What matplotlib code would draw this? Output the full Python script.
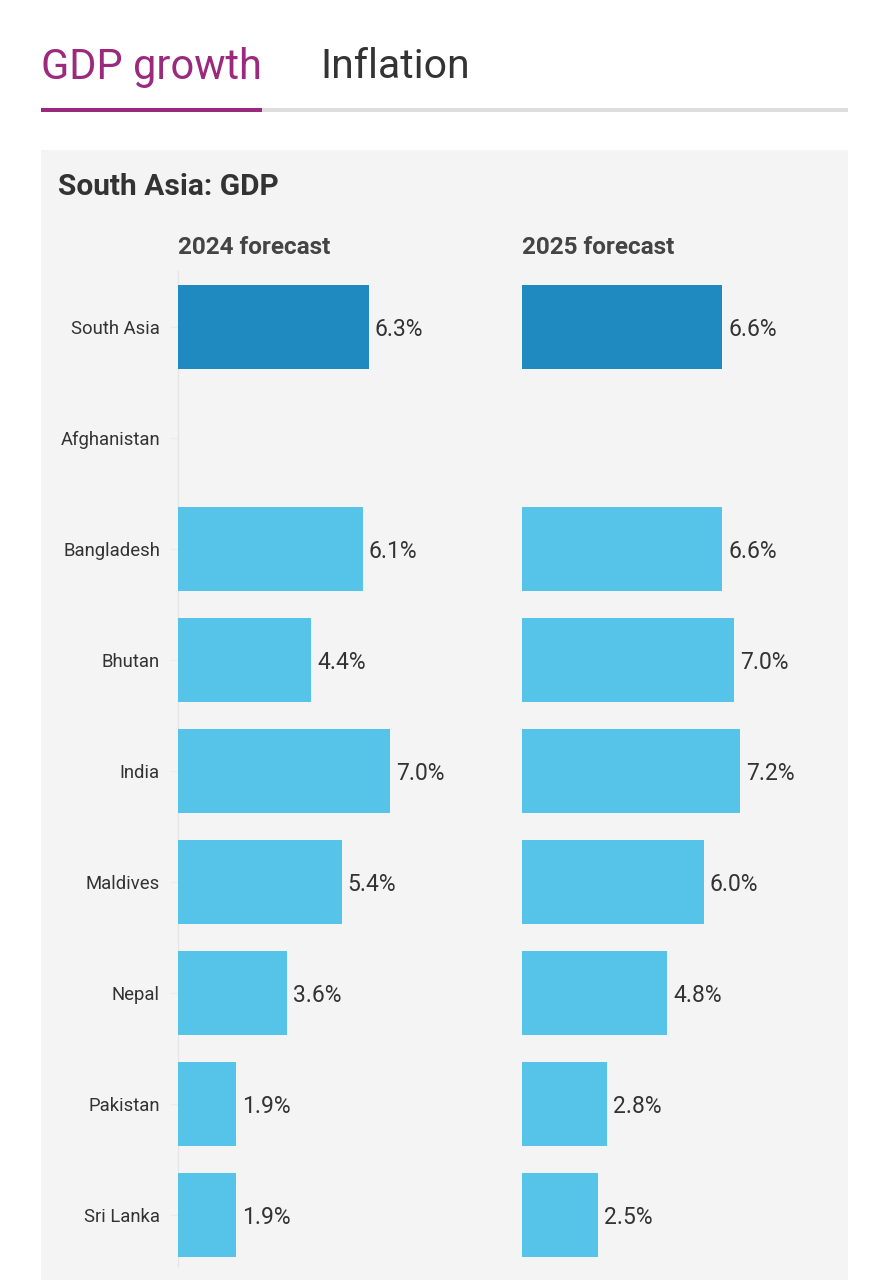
import matplotlib
matplotlib.use("Agg")
import matplotlib.pyplot as plt
from matplotlib.patches import Rectangle
import numpy as np

countries = ["South Asia", "Afghanistan", "Bangladesh", "Bhutan", "India",
             "Maldives", "Nepal", "Pakistan", "Sri Lanka"]
gdp_2024 = [6.3, np.nan, 6.1, 4.4, 7.0, 5.4, 3.6, 1.9, 1.9]
gdp_2025 = [6.6, np.nan, 6.6, 7.0, 7.2, 6.0, 4.8, 2.8, 2.5]
col_titles = ["2024 forecast", "2025 forecast"]

W, H = 889, 1280
DPI = 100
plt.rcParams['font.family'] = ['Roboto', 'DejaVu Sans']

fig = plt.figure(figsize=(W / DPI, H / DPI), dpi=DPI)
fig.patch.set_facecolor("white")

def fx(px):
    return px / W

def fy(py):
    return 1 - py / H

# gray panel
fig.add_artist(Rectangle((fx(41), fy(1280)), fx(848) - fx(41), fy(150) - fy(1280),
                         transform=fig.transFigure, facecolor="#f4f4f4", edgecolor="none", zorder=0))
# tab underline
fig.add_artist(Rectangle((fx(262), fy(112)), fx(848) - fx(262), 4 / H,
                         transform=fig.transFigure, facecolor="#dddddd", edgecolor="none", zorder=1))
fig.add_artist(Rectangle((fx(41), fy(112)), fx(262) - fx(41), 4 / H,
                         transform=fig.transFigure, facecolor="#9b2a7e", edgecolor="none", zorder=2))

fig.text(fx(41), fy(67), "GDP growth", fontsize=30, color="#9b2a7e", va="center", ha="left")
fig.text(fx(320), fy(67), "Inflation", fontsize=29.5, color="#333333", va="center", ha="left")
fig.text(fx(58), fy(187), "South Asia: GDP", fontsize=21.5, fontweight="bold", color="#333333",
         va="center", ha="left")

y = np.arange(len(countries))
colors = ["#1f8abf"] + ["#56c3e8"] * (len(countries) - 1)

top_px, bot_px = 271, 1266
row0, step = 327, 111
ylim_top = (top_px - row0) / step
ylim_bot = (bot_px - row0) / step

for k, (vals, x0) in enumerate([(gdp_2024, 178), (gdp_2025, 522)]):
    ax = fig.add_axes([fx(x0), fy(bot_px), 303 / W, fy(top_px) - fy(bot_px)])
    ax.set_facecolor("none")
    v = np.array(vals, dtype=float)
    ax.barh(y, np.nan_to_num(v), height=0.75, color=colors, zorder=3)
    for yi, val in zip(y, v):
        if not np.isnan(val):
            ax.text(val + 0.2, yi + 0.02, f"{val:.1f}%", va="center", ha="left",
                    fontsize=16.5, color="#333333")
    ax.set_xlim(0, 10)
    ax.set_ylim(ylim_bot, ylim_top)
    for s in ["top", "right", "bottom"]:
        ax.spines[s].set_visible(False)
    ax.spines["left"].set_color("#e6e6e6")
    ax.spines["left"].set_linewidth(1)
    ax.set_xticks([])
    ax.set_yticks(y)
    if k == 0:
        ax.set_yticklabels(countries, fontsize=13.3, color="#333333")
        ax.tick_params(axis="y", length=6, color="#ececec", pad=7)
    else:
        ax.set_yticklabels([])
        ax.tick_params(axis="y", length=0)
        ax.spines["left"].set_visible(False)
    fig.text(fx(x0), fy(247), col_titles[k], fontsize=17.5, fontweight="bold",
             color="#444444", va="center", ha="left")

fig.savefig("out.png", dpi=DPI)
